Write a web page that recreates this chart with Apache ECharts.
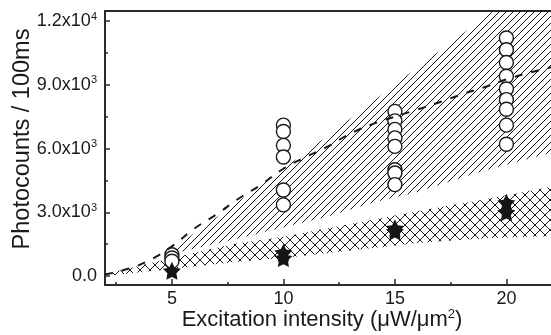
<!DOCTYPE html>
<html>
<head>
<meta charset="utf-8">
<script src="https://cdn.jsdelivr.net/npm/echarts@6/dist/echarts.min.js"></script>
<style>
  html, body { margin: 0; padding: 0; background: #fff; }
  #main { width: 551px; height: 335px; }
</style>
</head>
<body>
<div id="main"></div>
<script>
// measured points (photocounts per 100 ms)
var circles5  = [1000, 850, 700];
var circles10 = [7100, 6800, 6150, 5600, 4050, 3350];
var circles15 = [7750, 7300, 6900, 6500, 6100, 5000, 4850, 4300];
var circles20 = [11200, 10650, 10050, 9400, 8800, 8300, 7850, 7100, 6200];
var stars5  = [250];
var stars10 = [1100, 850];
var stars15 = [2250, 2100];
var stars20 = [3450, 3000];

// dashed curve
var dashX = [2, 3, 4, 5, 6, 7, 8, 9, 10, 11, 12, 13, 14, 15, 16, 17, 18, 19, 20, 21, 22];
var dashY = [80, 330, 750, 1400, 2230, 2900, 3650, 4300, 5050, 5600, 6100, 6700, 7150, 7500, 7830, 8180, 8550, 8880, 9250, 9560, 9820];

// diagonal hatched band (upper)
var hatchX  = [4.8, 7.7, 10, 12, 14, 16, 18.8, 22];
var hatchLo = [1000, 1700, 2300, 2800, 3450, 3950, 4900, 5800];
var hatchHi = [1100, 3300, 5050, 6600, 8200, 9800, 12000, 14500];

// cross hatched band (lower)
var crossX  = [2, 5, 7.7, 10, 13, 16, 19, 22];
var crossLo = [0, 330, 650, 850, 1200, 1550, 1780, 1880];
var crossHi = [100, 850, 1500, 1850, 2450, 3050, 3600, 4200];

var xLabels = [5, 10, 15, 20];
var xMinor = [2.5, 7.5, 12.5, 17.5];
var yLabels = [0, 3000, 6000, 9000, 12000];
var yMinor = [1500, 4500, 7500, 10500];

function makeHatch(size, cross) {
    var c = document.createElement('canvas');
    c.width = size; c.height = size;
    var g = c.getContext('2d');
    g.strokeStyle = '#1a1a1a';
    g.lineWidth = 1;
    g.beginPath();
    g.moveTo(-1, size + 1); g.lineTo(size + 1, -1);
    g.moveTo(-1, 1); g.lineTo(1, -1);
    g.moveTo(size - 1, size + 1); g.lineTo(size + 1, size - 1);
    if (cross) {
        g.moveTo(-1, -1); g.lineTo(size + 1, size + 1);
        g.moveTo(size - 1, -1); g.lineTo(size + 1, 1);
        g.moveTo(-1, size - 1); g.lineTo(1, size + 1);
    }
    g.stroke();
    return c;
}

function pairs(x, ys) {
    return ys.map(function (v) { return [x, v]; });
}

function bandSeries(xs, lo, hi, pattern, z) {
    return {
        type: 'custom',
        z: z,
        clip: true,
        silent: true,
        data: xs.map(function (v, i) { return [v, lo[i], hi[i]]; }),
        encode: { x: 0, y: [1, 2] },
        renderItem: function (params, api) {
            if (params.dataIndex !== 0) return;
            var pts = [];
            for (var i = 0; i < xs.length; i++) pts.push(api.coord([xs[i], hi[i]]));
            for (var j = xs.length - 1; j >= 0; j--) pts.push(api.coord([xs[j], lo[j]]));
            return {
                type: 'polygon',
                shape: { points: pts },
                style: { fill: { image: pattern, repeat: 'repeat' }, stroke: null }
            };
        }
    };
}

var starPath = 'path://M0,-10L2.94,-4.05L9.51,-3.09L4.76,1.55L5.88,8.09L0,5.2L-5.88,8.09L-4.76,1.55L-9.51,-3.09L-2.94,-4.05Z';
var font = 'Liberation Sans, Arial, sans-serif';
var axisColor = '#2a2a2a';

var myChart = echarts.init(document.getElementById('main'));
var option = {
    animation: false,
    backgroundColor: '#fff',
    textStyle: { fontFamily: font, color: '#1a1a1a' },
    grid: { left: 105, top: 11, right: 0, bottom: 50, outerBoundsMode: 'none', containLabel: false },
    xAxis: [
        {
            type: 'value', min: 2, max: 22, position: 'bottom',
            axisLine: { onZero: false, lineStyle: { color: axisColor, width: 2 } },
            axisTick: { inside: true, length: 6, customValues: xLabels, lineStyle: { color: axisColor, width: 1.5 } },
            axisLabel: { customValues: xLabels, fontSize: 18, color: '#1a1a1a', margin: 5, fontFamily: font },
            splitLine: { show: false },
            name: '{t|Excitation intensity (\u03bcW/\u03bcm}{s|2}{t|)}',
            nameLocation: 'middle',
            nameGap: 23,
            nameMoveOverlap: false,
            nameTextStyle: {
                padding: [0, 12, 0, 0],
                rich: {
                    t: { fontSize: 22, fontFamily: font, color: '#1a1a1a', lineHeight: 24 },
                    s: { fontSize: 13, fontFamily: font, color: '#1a1a1a', verticalAlign: 'top', lineHeight: 12 }
                }
            }
        },
        {
            type: 'value', min: 2, max: 22, position: 'bottom',
            axisLine: { show: false, onZero: false },
            axisTick: { inside: true, length: 3, customValues: xMinor, lineStyle: { color: axisColor, width: 1.5 } },
            axisLabel: { show: false },
            splitLine: { show: false }
        },
        {
            type: 'value', min: 2, max: 22, position: 'top',
            axisLine: { onZero: false, lineStyle: { color: axisColor, width: 2 } },
            axisTick: { show: false },
            axisLabel: { show: false },
            splitLine: { show: false }
        }
    ],
    yAxis: [
        {
            type: 'value', min: -420, max: 12470, position: 'left',
            axisLine: { show: true, onZero: false, lineStyle: { color: axisColor, width: 2 } },
            axisTick: { show: true, inside: true, length: 5, customValues: yLabels, lineStyle: { color: axisColor, width: 1.5 } },
            axisLabel: {
                customValues: yLabels, margin: 8, fontFamily: font,
                formatter: function (v) {
                    if (v === 0) return '{b|0.0}';
                    var e = Math.floor(Math.log10(v));
                    var m = (v / Math.pow(10, e)).toFixed(1);
                    return '{b|' + m + 'x10}{s|' + e + '}';
                },
                rich: {
                    b: { fontSize: 18, fontFamily: font, color: '#1a1a1a', lineHeight: 20 },
                    s: { fontSize: 11, fontFamily: font, color: '#1a1a1a', verticalAlign: 'top', lineHeight: 10 }
                }
            },
            splitLine: { show: false },
            name: 'Photocounts / 100ms',
            nameLocation: 'middle',
            nameGap: 70,
            nameMoveOverlap: false,
            nameTextStyle: { fontSize: 23.5, fontFamily: font, color: '#1a1a1a', padding: [0, 0, 0, 18] }
        },
        {
            type: 'value', min: -420, max: 12470, position: 'left',
            axisLine: { show: false, onZero: false },
            axisTick: { show: true, inside: true, length: 3, customValues: yMinor, lineStyle: { color: axisColor, width: 1.5 } },
            axisLabel: { show: false },
            splitLine: { show: false }
        }
    ],
    series: [
        bandSeries(crossX, crossLo, crossHi, makeHatch(10, true), 1),
        bandSeries(hatchX, hatchLo, hatchHi, makeHatch(7, false), 2),
        {
            type: 'scatter', z: 3,
            symbol: 'circle', symbolSize: 14,
            itemStyle: { color: '#fff', borderColor: '#1a1a1a', borderWidth: 1.4, opacity: 1 },
            data: [].concat(pairs(5, circles5), pairs(10, circles10), pairs(15, circles15), pairs(20, circles20))
        },
        {
            type: 'line', z: 4,
            showSymbol: false, smooth: true,
            lineStyle: { color: '#1a1a1a', width: 2, type: [8, 9] },
            data: dashX.map(function (v, i) { return [v, dashY[i]]; })
        },
        {
            type: 'scatter', z: 5,
            symbol: starPath, symbolSize: 18,
            itemStyle: { color: '#151515', opacity: 1 },
            data: [].concat(pairs(5, stars5), pairs(10, stars10), pairs(15, stars15), pairs(20, stars20))
        }
    ]
};
myChart.setOption(option);
</script>
</body>
</html>
